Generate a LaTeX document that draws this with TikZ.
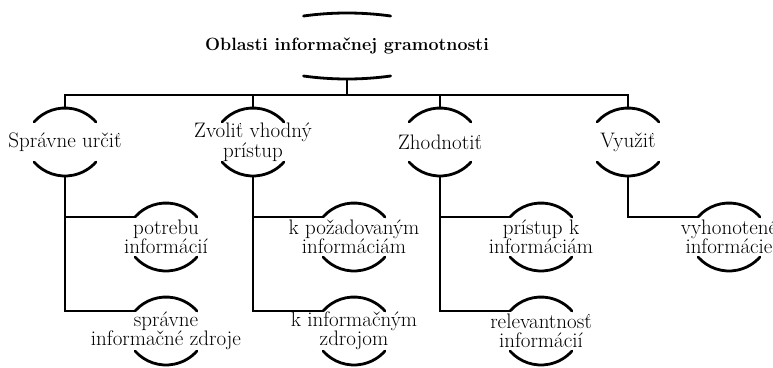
\documentclass[tikz,border=0pt]{standalone}
\usetikzlibrary{calc}
\tikzset{
  x=1pt, y=1pt,
  lnk/.style={line width=2.8pt, line cap=rect},
  arcline/.style={line width=2.8pt, line cap=round},
  lbl/.style={inner sep=0pt, minimum height=70pt, align=center,
    font=\fontsize{21}{19.5}\selectfont},
  ttl/.style={inner sep=0pt, minimum height=68pt, align=center,
    font=\fontsize{17.8}{19}\selectfont\bfseries},
}
\newcommand\archnode[3]{%
  \node[lbl] (#1) at (#2) {#3};
  \coordinate (#1-in) at ($(#1.center)+(-31,20)$);
  \draw[arcline] (#1-in) arc[start angle=138.6, end angle=41.4, radius=41.3];
  \draw[arcline] ($(#1.center)+(-31,-20)$) arc[start angle=-138.6, end angle=-41.4, radius=41.3];
}
\begin{document}
\begin{tikzpicture}
\useasboundingbox (0,0) rectangle (773,-367);
% title
\node[ttl] (top) at (347,-46) {Oblasti informačnej gramotnosti};
\draw[arcline] ($(top.center)+(-43.5,30)$) arc[start angle=97.9, end angle=82.1, radius=317];
\draw[arcline] ($(top.center)+(-43.5,-30)$) arc[start angle=-97.9, end angle=-82.1, radius=317];
\coordinate (bar) at (347,-95);
% level 1
\archnode{a}{65,-142}{Správne určiť}
\archnode{b}{253,-142}{Zvoliť vhodný\\prístup}
\archnode{c}{440,-142}{Zhodnotiť}
\archnode{d}{628,-142}{Využiť}
% level 2
\archnode{a1}{166,-237}{potrebu\\informácií}
\archnode{a2}{166,-331}{správne\\informačné zdroje}
\archnode{b1}{354,-237}{k požadovaným\\informáciám}
\archnode{b2}{354,-331}{k informačným\\zdrojom}
\archnode{c1}{541,-237}{prístup k\\informáciám}
\archnode{c2}{541,-331}{relevantnosť\\informácií}
\archnode{d1}{729,-237}{vyhonotené\\informácie}
% connectors
\draw[lnk] (top.south) -- (bar);
\foreach \n in {a,b,c,d}{
  \draw[lnk] (bar) -| (\n.north);
}
\foreach \p/\k in {a/a1,a/a2,b/b1,b/b2,c/c1,c/c2,d/d1}{
  \draw[lnk] (\p.south) |- (\k-in);
}
\end{tikzpicture}
\end{document}
